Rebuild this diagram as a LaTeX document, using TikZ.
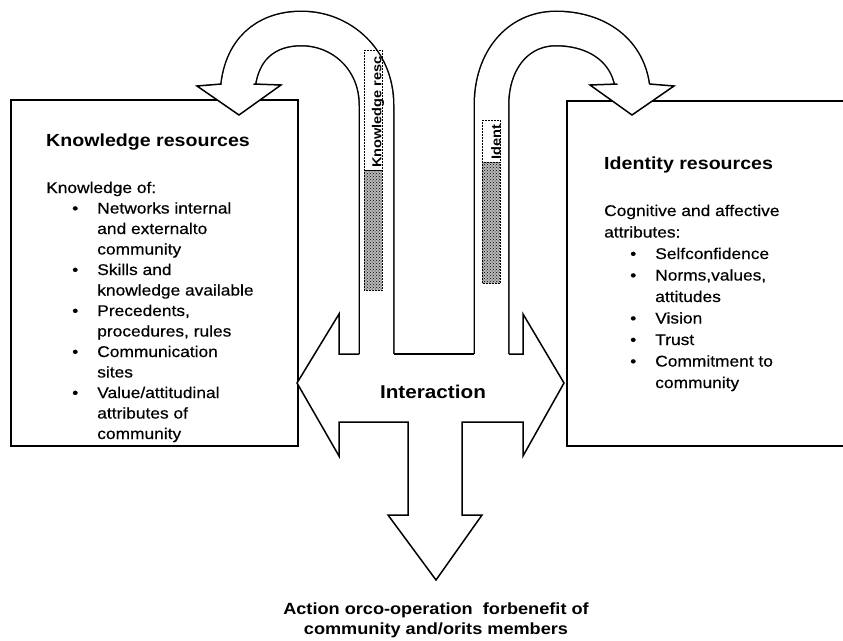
\documentclass[tikz,border=0pt]{standalone}
\usepackage{fontspec}
\setmainfont{Liberation Sans}[FakeStretch=1.12, UprightFeatures={FakeBold=0.4}]
\usetikzlibrary{positioning,patterns}
\tikzset{
  resbox/.style = {draw, line width=1.5pt, fill=white, inner sep=0pt, anchor=north west},
  hdr/.style    = {font=\fontsize{17.5}{21}\selectfont\bfseries, anchor=base west, inner sep=0pt},
  body/.style   = {font=\fontsize{15.5}{20.5}\selectfont, anchor=base west, inner sep=0pt},
  outl/.style   = {line width=1.5pt, line join=miter},
  bandout/.style= {line width=36pt, draw=black},
  bandin/.style = {line width=33pt, draw=white},
  strip/.style  = {draw, densely dotted, line width=0.5pt},
  striplbl/.style = {font=\fontsize{13}{13}\selectfont\bfseries, rotate=90, anchor=west, inner sep=0pt},
}
\newcommand{\bul}{\textbullet}

\begin{document}
\begin{tikzpicture}[x=1pt, y=-1pt]
  \useasboundingbox (0,0) rectangle (843,640);
  \clip (0,0) rectangle (843,640);

  %% ---------------- the two resource boxes ----------------
  \node[resbox, minimum width=287, minimum height=346] (know) at (10,99) {};
  \node[resbox, minimum width=300, minimum height=345] (ident) at (566,100) {};

  \node[hdr] (khead) at (46,146) {Knowledge resources};
  \node[body] (klist) at (46,193) {%
    \begin{tabular}[t]{@{\hspace{26pt}}l@{\hspace{19pt}}l@{}}
      \multicolumn{2}{@{}l@{}}{Knowledge of:}\\
      \bul & Networks internal\\
           & and externalto\\
           & community\\
      \bul & Skills and\\
           & knowledge available\\
      \bul & Precedents,\\
           & procedures, rules\\
      \bul & Communication\\
           & sites\\
      \bul & Value/attitudinal\\
           & attributes of\\
           & community
    \end{tabular}};

  \node[hdr] (ihead) at (604,169) {Identity resources};
  \node[body, font=\fontsize{15.5}{21.5}\selectfont] (ilist) at (604,216) {%
    \begin{tabular}[t]{@{\hspace{26pt}}l@{\hspace{19pt}}l@{}}
      \multicolumn{2}{@{}l@{}}{Cognitive and affective}\\
      \multicolumn{2}{@{}l@{}}{attributes:}\\
      \bul & Selfconfidence\\
      \bul & Norms,values,\\
           & attitudes\\
      \bul & Vision\\
      \bul & Trust\\
      \bul & Commitment to\\
           & community
    \end{tabular}};

  %% ---------------- U-turn arrows back into the boxes ----------------
  \foreach \bstyle in {bandout,bandin} {
    \draw[\bstyle] (376.5,362) -- (376.5,105)
      .. controls (376.5,60) and (342,28.5) .. (301.5,28.5)
      .. controls (265,28.5) and (240,50) .. (237.5,92);
    \draw[\bstyle] (491.5,362) -- (491.5,105)
      .. controls (491.5,60) and (518,28.5) .. (556,28.5)
      .. controls (596,28.5) and (630,50) .. (633,92);
  }
  % heads
  \fill[white] (222,84) -- (197,86) -- (239,115) -- (281,85) -- (253,84) -- cycle;
  \draw[outl] (221.5,84) -- (197,86) -- (239,115) -- (281,85) -- (253.5,84);
  \fill[white] (618,84) -- (590,85) -- (632,115) -- (674,86) -- (649,84) -- cycle;
  \draw[outl] (617.5,84) -- (590,85) -- (632,115) -- (674,86) -- (649.5,84);

  % label strips on the shafts
  \fill[black!28] (364,170) rectangle (382,290);
  \draw[strip, pattern=crosshatch dots] (364,170) rectangle (382,290);
  \draw[strip] (364,50) rectangle (382,170);
  \node[striplbl] (klbl) at (378,168) {Knowledge resc};
  \fill[black!28] (482,162) rectangle (500,283);
  \draw[strip, pattern=crosshatch dots] (482,162) rectangle (500,283);
  \draw[strip] (482,120) rectangle (500,162);
  \node[striplbl] (ilbl) at (496,160) {Ident};

  %% ---------------- interaction arrow ----------------
  \fill[white] (297,383) -- (339,314) -- (339,354) -- (523,354) -- (523,314)
    -- (564,383) -- (523,456) -- (523,422) -- (462,422) -- (462,515) -- (482,515)
    -- (436,580) -- (388,515) -- (408,515) -- (408,422) -- (339,422) -- (339,456) -- cycle;
  \draw[outl] (359.25,354) -- (339,354) -- (339,314) -- (297,383) -- (339,456)
    -- (339,422) -- (408,422) -- (408,515) -- (388,515) -- (436,580) -- (482,515)
    -- (462,515) -- (462,422) -- (523,422) -- (523,456) -- (564,383) -- (523,314)
    -- (523,354) -- (508.75,354);
  \draw[outl] (393.75,354) -- (474.25,354);

  \node[font=\fontsize{18.5}{20}\selectfont\bfseries] (inter) at (433,392) {Interaction};
  \node[font=\fontsize{16.2}{20}\selectfont\bfseries, align=center] (action) at (436,620)
    {Action orco-operation \ forbenefit of\\community and/orits members};
\end{tikzpicture}
\end{document}
